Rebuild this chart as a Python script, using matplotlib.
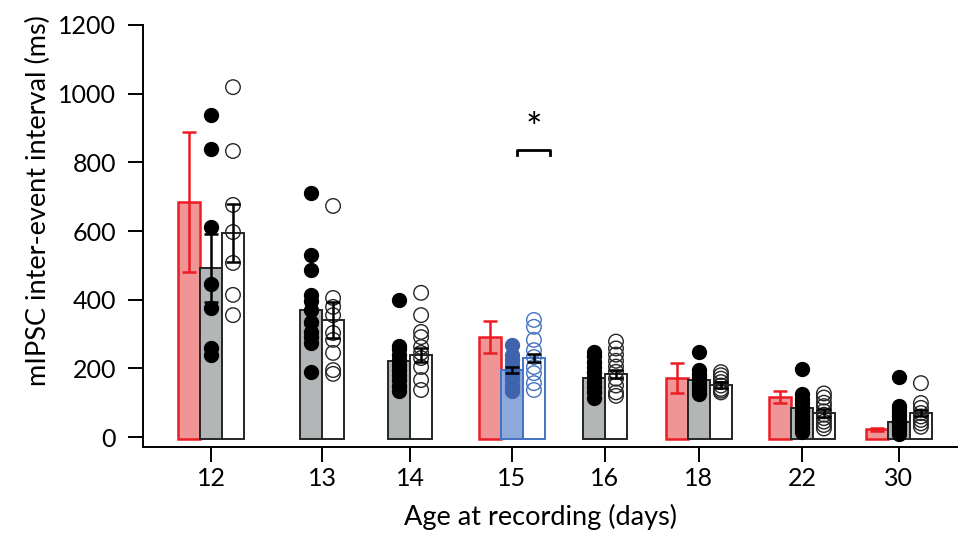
import matplotlib.pyplot as plt
import numpy as np

plt.rcParams['font.family'] = ['Lato', 'DejaVu Sans']

# Данни: възраст (дни) и стойности по групи
ages = ['12', '13', '14', '15', '16', '18', '22', '30']

red_mean = [685, np.nan, np.nan, 291, np.nan, 172, 116, 23]
red_sem = [204, np.nan, np.nan, 47, np.nan, 45, 17, 4]

fill_mean = [492, 370, 221, 195, 172, 166, 85, 44]
fill_sem = [98, 43, 20, 9, 15, 15, 12, 8]
fill_pts = [
    [938, 839, 612, 446, 376, 259, 239],
    [711, 530, 486, 413, 395, 370, 335, 306, 290, 274, 189],
    [399, 265, 255, 240, 225, 210, 195, 180, 165, 150, 135],
    [268, 240, 225, 210, 200, 190, 180, 165, 150, 135],
    [248, 235, 220, 205, 190, 175, 160, 145, 130, 115],
    [247, 195, 185, 175, 165, 155, 145, 135, 125],
    [198, 125, 112, 100, 88, 75, 62, 50, 38, 25, 15],
    [175, 90, 80, 70, 60, 50, 40, 30, 20, 10],
]

open_mean = [594, 341, 239, 230, 183, 151, 70, 70]
open_sem = [85, 52, 20, 12, 12, 9, 12, 10]
open_pts = [
    [1019, 833, 676, 597, 507, 414, 355],
    [673, 405, 379, 355, 303, 283, 245, 195, 184],
    [420, 355, 306, 291, 262, 245, 230, 204, 166, 137],
    [341, 321, 283, 253, 233, 204, 186, 157, 137],
    [278, 258, 240, 222, 205, 190, 170, 150, 130, 120],
    [189, 180, 170, 160, 150, 140, 135, 130],
    [127, 115, 100, 90, 75, 65, 55, 45, 35, 25],
    [157, 99, 85, 70, 60, 50, 40, 30],
]

# Распоред (у ширинама стубића)
group_x = [3.09, 8.14, 12.14, 16.77, 21.0, 25.27, 29.95, 34.36]
blue_group = 3
base = -6

red_edge = '#ed1c24'
red_face = '#ef9595'
gray_face = '#b2b6b6'
dark = '#262626'
blue_face = '#8eaadb'
blue_edge = '#4472c4'
blue_dot = '#3f63ad'

fig = plt.figure(figsize=(9.6, 5.35), dpi=100)
ax = fig.add_axes([143 / 960, 88 / 535, 814 / 960, 422 / 535])

for i, gx in enumerate(group_x):
    has_red = not np.isnan(red_mean[i])
    if has_red:
        xr, xf, xo = gx - 1, gx, gx + 1
    else:
        xf, xo = gx - 0.5, gx + 0.5
    blue = (i == blue_group)
    fface = blue_face if blue else gray_face
    fedge = blue_edge if blue else dark
    dcol = blue_dot if blue else 'black'
    oedge = blue_edge if blue else dark

    if has_red:
        ax.bar(xr, red_mean[i] - base, bottom=base, width=1, color=red_face,
               edgecolor=red_edge, linewidth=1.8, zorder=1)
        ax.errorbar(xr, red_mean[i], yerr=red_sem[i], color=red_edge, lw=1.8,
                    capsize=5, capthick=1.8, zorder=4)

    ax.bar(xf, fill_mean[i] - base, bottom=base, width=1, color=fface,
           edgecolor=fedge, linewidth=1.4, zorder=1)
    ax.bar(xo, open_mean[i] - base, bottom=base, width=1, color='white',
           edgecolor=oedge, linewidth=1.4, zorder=1)

    ax.scatter([xf] * len(fill_pts[i]), fill_pts[i], s=100, color=dcol,
               edgecolor=dcol, zorder=2)
    ax.scatter([xo] * len(open_pts[i]), open_pts[i], s=110, facecolor='none',
               edgecolor=oedge, linewidth=1.0, zorder=2)

    ax.errorbar(xf, fill_mean[i], yerr=fill_sem[i], color='black', lw=1.8,
                capsize=5, capthick=1.8, zorder=4)
    ax.errorbar(xo, open_mean[i], yerr=open_sem[i], color='black', lw=1.8,
                capsize=5, capthick=1.8, zorder=4)

# звездица за значајност
gx = group_x[blue_group]
ax.plot([gx + 0.23, gx + 0.23, gx + 1.73, gx + 1.73], [822, 836, 836, 822],
        color='black', lw=2)
ax.text(gx + 1.0, 895, '*', ha='center', va='center', fontsize=28)

ax.set_xlim(0, 37)
ax.set_ylim(-29, 1200)
ax.set_yticks(range(0, 1201, 200))
ax.set_xticks(group_x)
ax.set_xticklabels(ages)
ax.spines['top'].set_visible(False)
ax.spines['right'].set_visible(False)
ax.spines['left'].set_linewidth(1.4)
ax.spines['bottom'].set_linewidth(1.4)
ax.tick_params(axis='both', length=10.5, width=1.4, labelsize=18)
ax.tick_params(axis='y', pad=9)
ax.tick_params(axis='x', pad=4)

ax.set_ylabel('mIPSC inter-event interval (ms)', fontsize=19.5)
ax.set_xlabel('Age at recording (days)', fontsize=19.5)
ax.yaxis.set_label_coords(-0.113, 0.585)
ax.xaxis.set_label_coords(0.488, -0.135)

fig.savefig('out.png', dpi=100)
